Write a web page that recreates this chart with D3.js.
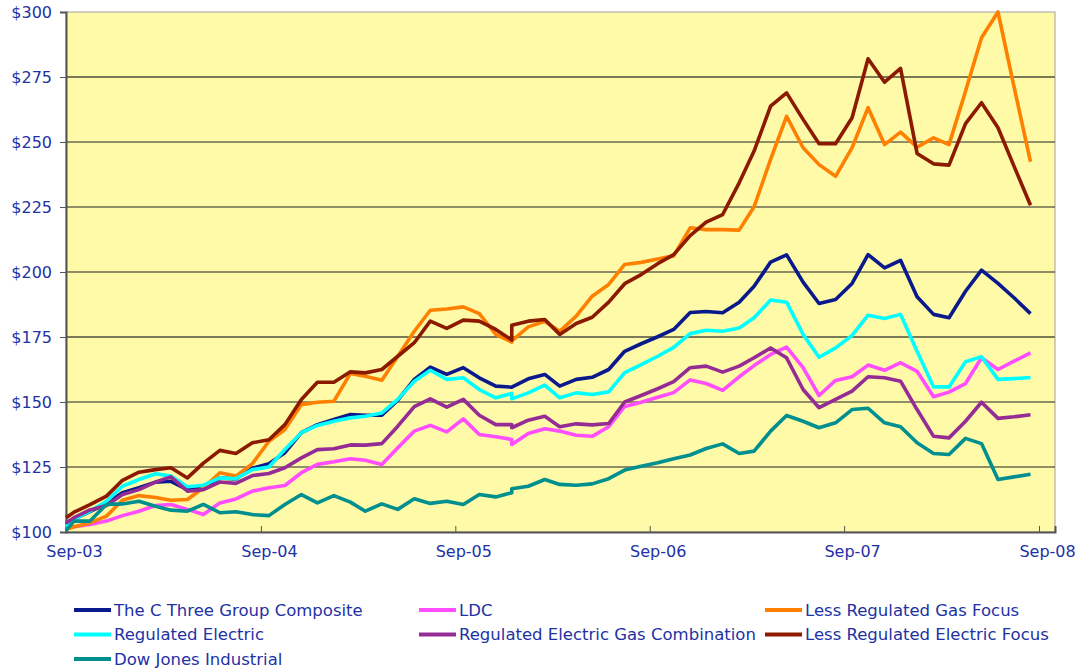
<!DOCTYPE html>
<html>
<head>
<meta charset="utf-8">
<script src="https://d3js.org/d3.v7.min.js"></script>
<style>
    body { margin: 0; background: #fff; }
    .axis text, .legend text {
        font-family: 'DejaVu Sans', Verdana, sans-serif;
        fill: #2232a4;
    }
</style>
</head>
<body>
<script>
// month-end style observations, Dec-05 appears twice (series re-based there)
var dates = [
    "2003-09-01", "2003-09-16", "2003-10-16", "2003-11-16", "2003-12-16",
    "2004-01-16", "2004-02-16", "2004-03-16", "2004-04-16", "2004-05-16", "2004-06-16",
    "2004-07-16", "2004-08-16", "2004-09-16", "2004-10-16", "2004-11-16", "2004-12-16",
    "2005-01-16", "2005-02-16", "2005-03-16", "2005-04-16", "2005-05-16", "2005-06-16",
    "2005-07-16", "2005-08-16", "2005-09-16", "2005-10-16", "2005-11-16", "2005-12-16", "2005-12-16",
    "2006-01-16", "2006-02-16", "2006-03-16", "2006-04-16", "2006-05-16", "2006-06-16",
    "2006-07-16", "2006-08-16", "2006-09-16", "2006-10-16", "2006-11-16", "2006-12-16",
    "2007-01-16", "2007-02-16", "2007-03-16", "2007-04-16", "2007-05-16", "2007-06-16",
    "2007-07-16", "2007-08-16", "2007-09-16", "2007-10-16", "2007-11-16", "2007-12-16",
    "2008-01-16", "2008-02-16", "2008-03-16", "2008-04-16", "2008-05-16", "2008-06-16",
    "2008-07-16", "2008-08-16"
];

var composite = [103.0, 105.0, 107.8, 111.0, 115.1, 117.0, 119.2, 119.5, 116.3, 117.0, 120.8, 120.4,
    124.5, 126.3, 130.5, 138.2, 141.3, 143.3, 145.2, 144.9, 144.9, 150.7, 158.7, 163.4, 160.6, 163.2,
    159.3, 156.1, 155.7, 155.7, 158.9, 160.6, 156.1, 158.7, 159.5, 162.5, 169.5, 172.4, 175.1, 177.9,
    184.4, 184.8, 184.3, 188.4, 194.5, 203.8, 206.6, 196.1, 187.9, 189.4, 195.6, 206.7, 201.6, 204.5,
    190.5, 183.7, 182.4, 192.6, 200.7, 195.6, 190.1, 184.0];

var ldc = [101.2, 102.0, 102.9, 104.2, 106.3, 108.0, 110.2, 110.6, 108.7, 106.7, 111.2, 112.7,
    115.7, 117.0, 117.9, 122.8, 126.0, 127.0, 128.2, 127.6, 126.0, 132.4, 138.8, 141.0, 138.5, 143.5,
    137.5, 136.6, 135.6, 133.7, 137.9, 139.7, 138.8, 137.2, 136.8, 140.5, 148.3, 149.9, 151.8, 153.6,
    158.5, 157.1, 154.5, 159.7, 164.0, 168.3, 171.1, 163.2, 152.5, 158.3, 159.7, 164.2, 162.2, 165.1,
    161.8, 152.0, 153.8, 157.1, 167.0, 162.5, 165.7, 168.9];

var lessGas = [101.0, 102.0, 103.5, 106.1, 112.2, 114.0, 113.3, 112.2, 112.5, 117.0, 122.8, 121.5,
    126.3, 134.9, 139.4, 149.0, 149.9, 150.3, 161.0, 159.9, 158.4, 167.6, 177.2, 185.3, 185.8, 186.6,
    184.0, 176.0, 173.0, 173.5, 178.9, 181.0, 177.2, 183.0, 190.7, 195.2, 202.9, 203.7, 205.0, 206.2,
    217.0, 216.3, 216.3, 216.1, 225.1, 243.3, 259.9, 247.8, 241.3, 236.8, 247.8, 263.2, 249.0, 253.8,
    248.0, 251.6, 249.0, 269.5, 290.1, 300.0, 271.3, 242.4];

var regElec = [102.0, 104.8, 108.0, 111.8, 117.6, 120.2, 122.4, 121.5, 117.4, 118.0, 120.8, 120.5,
    124.0, 125.0, 131.7, 138.2, 141.0, 142.6, 143.9, 144.5, 145.8, 151.0, 158.0, 162.2, 158.7, 159.3,
    154.8, 151.6, 153.3, 151.2, 153.5, 156.5, 151.6, 153.5, 152.9, 153.9, 161.3, 164.4, 167.6, 171.0,
    176.3, 177.6, 177.2, 178.5, 182.4, 189.2, 188.4, 176.0, 167.2, 170.8, 175.6, 183.4, 182.1, 183.7,
    169.5, 155.8, 155.8, 165.5, 167.4, 158.7, 159.0, 159.4];

var regElecGas = [103.5, 105.5, 108.5, 110.2, 114.4, 116.3, 119.2, 121.2, 115.7, 116.3, 119.2, 118.7,
    121.7, 122.5, 124.7, 128.5, 131.7, 132.0, 133.5, 133.4, 134.0, 140.7, 148.2, 151.2, 148.0, 151.0,
    144.9, 141.3, 141.3, 140.1, 143.0, 144.5, 140.5, 141.6, 141.2, 141.7, 150.0, 152.5, 155.1, 157.8,
    163.2, 163.8, 161.5, 163.8, 167.0, 170.8, 167.0, 154.8, 147.8, 151.0, 154.2, 159.7, 159.3, 158.0,
    147.1, 136.8, 136.2, 142.6, 149.9, 143.7, 144.3, 145.1];

var lessElec = [105.5, 107.6, 110.5, 113.8, 119.9, 123.0, 124.0, 124.7, 120.8, 126.5, 131.4, 130.2,
    134.3, 135.5, 141.3, 151.0, 157.6, 157.6, 161.6, 161.2, 162.5, 167.6, 172.8, 181.1, 178.3, 181.5,
    181.1, 177.9, 173.8, 179.5, 181.1, 181.7, 176.0, 180.2, 182.6, 188.4, 195.5, 199.0, 203.2, 206.7,
    214.0, 219.2, 222.1, 234.3, 246.5, 263.8, 268.9, 258.7, 249.3, 249.3, 259.3, 282.0, 273.0, 278.3,
    245.6, 241.6, 241.1, 257.1, 265.1, 255.5, 240.7, 225.7];

var dowJones = [100.5, 104.2, 104.2, 110.6, 110.8, 111.8, 109.9, 108.4, 108.0, 110.6, 107.4, 107.8,
    106.7, 106.3, 110.6, 114.4, 111.2, 114.0, 111.5, 108.0, 110.8, 108.7, 112.8, 111.0, 111.8, 110.6,
    114.4, 113.5, 115.1, 116.6, 117.6, 120.2, 118.3, 118.0, 118.5, 120.5, 123.8, 125.3, 126.6, 128.2,
    129.6, 132.1, 133.9, 130.2, 131.1, 138.8, 144.8, 142.6, 140.1, 142.0, 147.1, 147.6, 142.0, 140.5,
    134.3, 130.2, 129.8, 136.0, 134.0, 120.2, 121.2, 122.2];

var seriesNames = ["The C Three Group Composite", "LDC", "Less Regulated Gas Focus",
    "Regulated Electric", "Regulated Electric Gas Combination", "Less Regulated Electric Focus",
    "Dow Jones Industrial"];
var seriesColors = ["#0a1a8c", "#ff4dff", "#ff8000", "#00ffff", "#952c95", "#8b1a00", "#008f8f"];
var seriesValues = [composite, ldc, lessGas, regElec, regElecGas, lessElec, dowJones];

var yTicks = [100, 125, 150, 175, 200, 225, 250, 275, 300];
var xTickDates = ["2003-09-01", "2004-09-01", "2005-09-01", "2006-09-01", "2007-09-01", "2008-09-01"];

var parseDate = d3.timeParse("%Y-%m-%d");
var fmtTick = d3.timeFormat("%b-%y");

var svg = d3.select("body").append("svg")
    .attr("width", 1082)
    .attr("height", 668);

var margin = {top: 12, left: 66},
    width = 989,
    height = 520;

var g = svg.append("g").attr("transform", "translate(" + margin.left + "," + margin.top + ")");

var x = d3.scaleTime()
    .domain([parseDate("2003-09-01"), parseDate("2008-10-01")])
    .range([0, width]);

var y = d3.scaleLinear()
    .domain([100, 300])
    .range([height, 0]);

// plot background
g.append("rect")
    .attr("width", width)
    .attr("height", height)
    .attr("fill", "#fffaa8")
    .attr("stroke", "#a0a0a0")
    .attr("stroke-width", 1);

// gridlines
g.selectAll(".grid")
    .data(yTicks.filter(function(d) { return d > 100 && d < 300; }))
    .enter().append("line")
    .attr("class", "grid")
    .attr("x1", 0)
    .attr("x2", width)
    .attr("y1", function(d) { return y(d); })
    .attr("y2", function(d) { return y(d); })
    .attr("stroke", function(d) { return (d === 175 || d === 275) ? "#7a7a58" : "#222"; })
    .attr("stroke-width", function(d) { return (d === 175 || d === 275) ? 2 : 1; });

// y axis
var yAxis = g.append("g")
    .attr("class", "axis")
    .call(d3.axisLeft(y).tickValues(yTicks).tickSize(6).tickPadding(8)
        .tickFormat(function(d) { return "$" + d; }));
yAxis.select(".domain").attr("stroke", "#555").attr("stroke-width", 2);
yAxis.selectAll(".tick line").attr("stroke", "#555");
yAxis.selectAll("text").style("font-size", "16px");

// x axis
var xAxis = g.append("g")
    .attr("class", "axis")
    .attr("transform", "translate(0," + height + ")")
    .call(d3.axisBottom(x).tickValues(xTickDates.map(parseDate)).tickSize(-6).tickPadding(14)
        .tickFormat(fmtTick));
xAxis.select(".domain").attr("stroke", "#555").attr("stroke-width", 2);
xAxis.selectAll(".tick line").attr("stroke", "#555");
xAxis.selectAll("text")
    .style("font-size", "16px")
    .attr("dx", 8);

// series lines
var line = d3.line()
    .x(function(d) { return x(d.date); })
    .y(function(d) { return y(d.value); });

seriesValues.forEach(function(vals, i) {
    var pts = vals.map(function(v, j) { return {date: parseDate(dates[j]), value: v}; });
    g.append("path")
        .datum(pts)
        .attr("fill", "none")
        .attr("stroke", seriesColors[i])
        .attr("stroke-width", 3.6)
        .attr("stroke-linejoin", "round")
        .attr("d", line);
});

// legend, 3 per row
var legend = svg.append("g").attr("class", "legend");
var colX = [74, 419, 765];

var item = legend.selectAll(".item")
    .data(seriesNames)
    .enter().append("g")
    .attr("class", "item")
    .attr("transform", function(d, i) {
        return "translate(" + colX[i % 3] + "," + (610 + Math.floor(i / 3) * 24.5) + ")";
    });

item.append("line")
    .attr("x1", 0)
    .attr("x2", 37)
    .attr("stroke", function(d, i) { return seriesColors[i]; })
    .attr("stroke-width", 4);

item.append("text")
    .attr("x", 40)
    .attr("dy", "0.36em")
    .style("font-size", "16.5px")
    .text(function(d) { return d; });
</script>
</body>
</html>
